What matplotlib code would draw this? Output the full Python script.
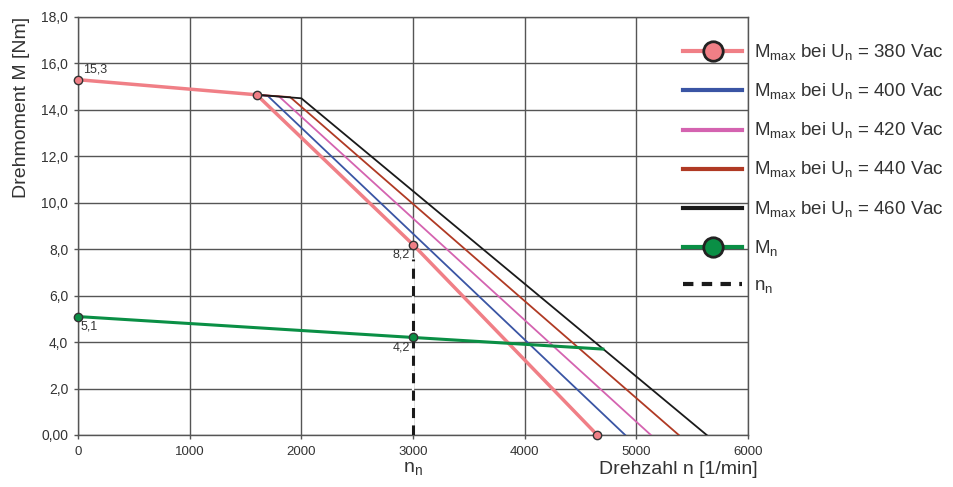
import matplotlib.pyplot as plt
from matplotlib.lines import Line2D

plt.rcParams['font.family'] = ['Liberation Sans', 'DejaVu Sans']
plt.rcParams['mathtext.fontset'] = 'custom'
plt.rcParams['mathtext.rm'] = 'Liberation Sans'

# Mmax curves (speed in 1/min, torque in Nm)
n_380 = [0, 1600, 3000, 4650]
m_380 = [15.3, 14.65, 8.2, 0.0]
n_400 = [1600, 1700, 4900]
m_400 = [14.65, 14.6, 0.0]
n_420 = [1600, 1800, 5130]
m_420 = [14.65, 14.58, 0.0]
n_440 = [1600, 1900, 5380]
m_440 = [14.65, 14.55, 0.0]
n_460 = [1600, 2000, 5630]
m_460 = [14.65, 14.5, 0.0]

# rated torque
n_mn = [0, 3000, 4700]
m_mn = [5.1, 4.2, 3.7]

# marked points
pts_red_n = [0, 1600, 3000, 4650]
pts_red_m = [15.3, 14.65, 8.2, 0.0]
pts_green_n = [0, 3000]
pts_green_m = [5.1, 4.2]

n_nenn = 3000
nn_line = [0.0, 7.6]

c_red = '#f07f86'
c_blue = '#3a55a4'
c_pink = '#d463b0'
c_brown = '#b03a24'
c_black = '#1a1a1a'
c_green = '#0a8f45'
txt = '#333333'

fig = plt.figure(figsize=(9.54, 4.87), dpi=100)
ax = fig.add_axes([78/954, 1-435/487, (748-78)/954, (435-17)/487])

ax.plot(n_380, m_380, color=c_red, lw=2.5, zorder=5)
ax.plot(n_400, m_400, color=c_blue, lw=1.3, zorder=4)
ax.plot(n_420, m_420, color=c_pink, lw=1.3, zorder=4)
ax.plot(n_440, m_440, color=c_brown, lw=1.3, zorder=4)
ax.plot(n_460, m_460, color=c_black, lw=1.3, zorder=4)
ax.plot(n_mn, m_mn, color=c_green, lw=2.2, zorder=5)
# white under the dashes hides the 3000 grid line
ax.plot([n_nenn, n_nenn], nn_line, color='white', lw=1.6, zorder=3)
ax.plot([n_nenn, n_nenn], nn_line, color=c_black, lw=2.2, ls=(0, (3.3, 2.4)), zorder=6)

ax.plot(pts_red_n, pts_red_m, ls='none', marker='o', ms=6, mfc=c_red,
        mec='#333333', mew=1, zorder=7, clip_on=False)
ax.plot(pts_green_n, pts_green_m, ls='none', marker='o', ms=6, mfc=c_green,
        mec='#333333', mew=1, zorder=7, clip_on=False)

ax.annotate('15,3', (0, 15.3), xytext=(4, 3), textcoords='offset points',
            fontsize=9, color=txt, ha='left', va='bottom')
ax.annotate('8,2', (3000, 8.2), xytext=(-2, -3), textcoords='offset points',
            fontsize=9, color=txt, ha='right', va='top')
ax.annotate('5,1', (0, 5.1), xytext=(2, -3), textcoords='offset points',
            fontsize=9, color=txt, ha='left', va='top')
ax.annotate('4,2', (3000, 4.2), xytext=(-2, -3), textcoords='offset points',
            fontsize=9, color=txt, ha='right', va='top')

ax.set_xlim(0, 6000)
ax.set_ylim(0, 18)
ax.set_xticks(range(0, 6001, 1000))
ax.set_yticks(range(0, 19, 2))
ax.set_yticklabels(['0,00'] + ['%d,0' % v for v in range(2, 19, 2)])
ax.tick_params(axis='y', labelsize=10, colors=txt, length=3, width=1, pad=4)
ax.tick_params(axis='x', labelsize=9.5, colors=txt, length=3, width=1, pad=5)
ax.tick_params(color='#555555')
ax.grid(True, color='#555555', lw=1)
for s in ax.spines.values():
    s.set_color('#555555')
    s.set_linewidth(1)

ax.set_ylabel('Drehmoment M [Nm]', fontsize=14, color=txt, loc='top', labelpad=8)
ax.text(1.015, -0.062, 'Drehzahl n [1/min]', transform=ax.transAxes, fontsize=14,
        color=txt, ha='right', va='top')
ax.text(3000, -0.062, r'n$_\mathrm{n}$', transform=ax.get_xaxis_transform(),
        fontsize=14, color=txt, ha='center', va='top')

handles = [
    Line2D([], [], color=c_red, lw=3, marker='o', ms=14, mfc=c_red, mec='#222222', mew=2),
    Line2D([], [], color=c_blue, lw=3),
    Line2D([], [], color=c_pink, lw=3),
    Line2D([], [], color=c_brown, lw=3),
    Line2D([], [], color=c_black, lw=3),
    Line2D([], [], color=c_green, lw=3, marker='o', ms=14, mfc=c_green, mec='#222222', mew=2),
    Line2D([], [], color=c_black, lw=3, ls=(0, (2.5, 2))),
]
labels = [r'M$_\mathrm{max}$ bei U$_\mathrm{n}$ = %d Vac' % u for u in (380, 400, 420, 440, 460)]
labels += [r'M$_\mathrm{n}$', r'n$_\mathrm{n}$']
leg = fig.legend(handles, labels, loc='upper left', bbox_to_anchor=(683/954, 1-43/487),
                 frameon=False, fontsize=13.5, handlelength=3.15, handletextpad=0.65,
                 labelspacing=1.0, borderaxespad=0, borderpad=0)
for t in leg.get_texts():
    t.set_color(txt)

fig.savefig('out.png', dpi=100)
